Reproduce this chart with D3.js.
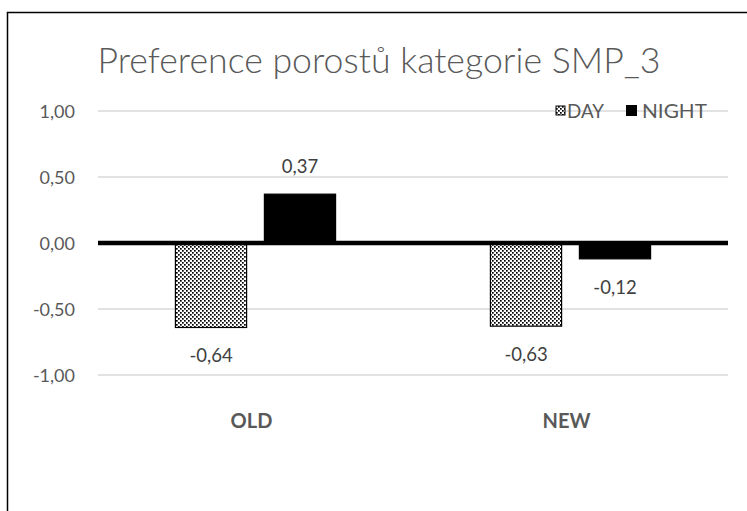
<!DOCTYPE html>
<html><head><meta charset="utf-8">
<script src="https://cdn.jsdelivr.net/npm/d3@7/dist/d3.min.js"></script>
<style>body{margin:0;background:#fff}svg{display:block}</style>
</head><body>
<script>
const title = "Preference porostů kategorie SMP_3";
const categories = ["OLD", "NEW"];
const seriesNames = ["DAY", "NIGHT"];
const dayValues = [-0.64, -0.63];
const nightValues = [0.37, -0.12];
const yTicks = [1, 0.5, 0, -0.5, -1];

const W = 747, H = 511;
const svg = d3.select("body").append("svg").attr("width", W).attr("height", H);
const defs = svg.append("defs");
const pat = defs.append("pattern").attr("id","dots").attr("patternUnits","userSpaceOnUse")
  .attr("width",4).attr("height",4);
pat.append("rect").attr("width",4).attr("height",4).attr("fill","#fff");
pat.append("rect").attr("x",0).attr("y",0).attr("width",1.7).attr("height",1.7).attr("fill","#000");
pat.append("rect").attr("x",2).attr("y",2).attr("width",1.7).attr("height",1.7).attr("fill","#000");

svg.append("rect").attr("x",7.5).attr("y",12.5).attr("width",W).attr("height",H)
  .attr("fill","none").attr("stroke","#000").attr("stroke-width",1.5);

const font = "Lato, 'Open Sans', sans-serif";
svg.append("text").attr("x",379).attr("y",73).attr("text-anchor","middle")
  .attr("font-family",font).attr("font-weight",300).attr("font-size",35).attr("fill","#595959")
  .attr("textLength",563).attr("lengthAdjust","spacingAndGlyphs").text(title);

const x0 = d3.scaleBand().domain(categories).range([98, 728]).paddingInner(0).paddingOuter(0);
const x1 = d3.scaleBand().domain(seriesNames).range([0, x0.bandwidth()]).paddingInner(0.2).paddingOuter(0.87);
const y = d3.scaleLinear().domain([-1, 1]).range([375, 111]);

const yAxis = d3.axisLeft(y).tickValues(yTicks).tickSize(0).tickPadding(0)
  .tickFormat(d => d3.format(".2f")(d).replace(".", ",").replace("−","-"));
const ga = svg.append("g").attr("transform","translate(75,0)").call(yAxis);
ga.select(".domain").remove();
ga.selectAll("text").attr("font-family",font).attr("font-size",18).attr("fill","#595959").attr("dy","0.35em");
svg.append("g").selectAll("line").data(yTicks.filter(d=>d!==0)).join("line")
  .attr("x1",98).attr("x2",728).attr("y1",d=>y(d)).attr("y2",d=>y(d))
  .attr("stroke","#d9d9d9").attr("stroke-width",1.5);

const rows = categories.map((c,i)=>({cat:c, vals:[{s:"DAY",v:dayValues[i]},{s:"NIGHT",v:nightValues[i]}]}));
const g = svg.append("g");
rows.forEach(r=>{
  r.vals.forEach(d=>{
    const xx = x0(r.cat)+x1(d.s);
    g.append("rect").attr("x",xx).attr("width",x1.bandwidth())
      .attr("y",y(Math.max(0,d.v))).attr("height",Math.abs(y(d.v)-y(0)))
      .attr("fill", d.s==="DAY"?"url(#dots)":"#000")
      .attr("stroke","#000").attr("stroke-width",1.2);
    g.append("text").attr("x",xx+x1.bandwidth()/2)
      .attr("y", d.v>=0 ? y(d.v)-21 : y(d.v)+35)
      .attr("text-anchor","middle").attr("font-family",font).attr("font-size",18.5).attr("fill","#404040")
      .text(d3.format(".2f")(d.v).replace(".",",").replace("−","-"));
  });
});
svg.append("line").attr("x1",98).attr("x2",728).attr("y1",y(0)).attr("y2",y(0))
  .attr("stroke","#000").attr("stroke-width",4.5);

svg.append("g").selectAll("text").data(categories).join("text")
  .attr("x",d=>x0(d)+x0.bandwidth()/2-4).attr("y",428).attr("text-anchor","middle")
  .attr("font-family",font).attr("font-weight",700).attr("font-size",20).attr("fill","#595959").text(d=>d);

const lg = svg.append("g");
lg.append("rect").attr("x",556).attr("y",106).attr("width",9).attr("height",9).attr("fill","url(#dots)").attr("stroke","#000").attr("stroke-width",1);
lg.append("text").attr("x",567).attr("y",118).attr("font-family",font).attr("font-size",19).attr("fill","#595959")
  .attr("textLength",37).attr("lengthAdjust","spacingAndGlyphs").text("DAY");
lg.append("rect").attr("x",626).attr("y",105).attr("width",11).attr("height",11).attr("fill","#000");
lg.append("text").attr("x",642).attr("y",118).attr("font-family",font).attr("font-size",19).attr("fill","#595959")
  .attr("textLength",65).attr("lengthAdjust","spacingAndGlyphs").text("NIGHT");
</script>
</body></html>
